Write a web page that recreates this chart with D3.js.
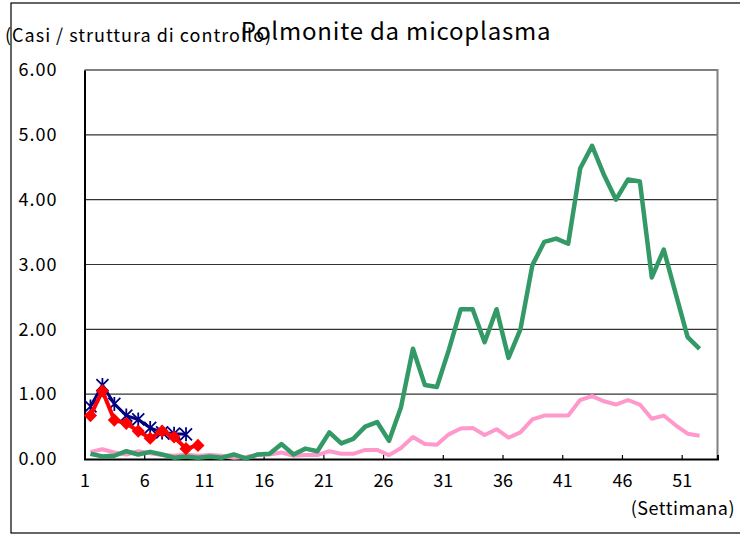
<!DOCTYPE html>
<html>
<head>
<meta charset="utf-8">
<title>Polmonite da micoplasma</title>
<style>
  body { margin: 0; background: #fff; }
  text { font-family: "Noto Sans CJK JP", "Noto Sans", sans-serif; }
</style>
</head>
<body>
<svg></svg>
<script src="https://d3js.org/d3.v7.min.js"></script>
<script>
// weeks 1..52
var weeks = d3.range(1, 53);

// green line (latest season)
var greenVals = [0.08, 0.04, 0.05, 0.12, 0.07, 0.11, 0.07, 0.02, 0.04, 0.02,
                 0.04, 0.02, 0.07, 0.01, 0.07, 0.08, 0.23, 0.07, 0.16, 0.12,
                 0.41, 0.24, 0.31, 0.50, 0.57, 0.28, 0.80, 1.70, 1.14, 1.11,
                 1.68, 2.31, 2.31, 1.80, 2.31, 1.56, 2.00, 2.99, 3.35, 3.40,
                 3.32, 4.48, 4.83, 4.38, 4.00, 4.31, 4.28, 2.80, 3.23, 2.55,
                 1.88, 1.70];
// pink line
var pinkVals = [0.11, 0.15, 0.10, 0.07, 0.12, 0.09, 0.06, 0.05, 0.07, 0.05,
                0.06, 0.05, 0.02, 0.03, 0.06, 0.07, 0.10, 0.05, 0.06, 0.06,
                0.12, 0.08, 0.08, 0.14, 0.14, 0.06, 0.17, 0.34, 0.23, 0.22,
                0.38, 0.47, 0.48, 0.37, 0.46, 0.33, 0.41, 0.61, 0.67, 0.67,
                0.67, 0.91, 0.97, 0.89, 0.84, 0.91, 0.84, 0.62, 0.67, 0.52,
                0.39, 0.36];
// navy line with asterisk markers (weeks 1..9)
var blueVals = [0.81, 1.14, 0.85, 0.67, 0.61, 0.48, 0.41, 0.39, 0.38];
// red line with diamond markers (weeks 1..10)
var redVals = [0.67, 1.05, 0.60, 0.55, 0.43, 0.32, 0.43, 0.34, 0.16, 0.21];

var yTicks = [0, 1, 2, 3, 4, 5, 6];
var xTickLabels = [1, 6, 11, 16, 21, 26, 31, 36, 41, 46, 51];

var svg = d3.select("svg").attr("width", 740).attr("height", 535);

// outer frame
svg.append("rect")
    .attr("x", 11).attr("y", 3)
    .attr("width", 740).attr("height", 530)
    .attr("fill", "none").attr("stroke", "#000").attr("stroke-width", 1.2);

var plotL = 84.5, plotR = 717.5, plotT = 70, plotB = 459;

// each week takes one slot, labels sit at the left edge of the slot
var x = d3.scaleLinear().domain([0.5, 53.5]).range([plotL, plotR]);
var y = d3.scaleLinear().domain([0, 6]).range([plotB, plotT]);

// gridlines
svg.append("g").selectAll("line")
    .data(yTicks.filter(function(d){ return d > 0 && d < 6; }))
    .enter().append("line")
    .attr("x1", plotL).attr("x2", plotR)
    .attr("y1", function(d){ return y(d); })
    .attr("y2", function(d){ return y(d); })
    .attr("stroke", "#333").attr("stroke-width", 1.2);

// plot border top / right
svg.append("path")
    .attr("d", "M" + plotL + "," + plotT + "H" + plotR + "V" + plotB)
    .attr("fill", "none").attr("stroke", "#808080").attr("stroke-width", 2);

// y axis
var yAxis = svg.append("g")
    .attr("transform", "translate(" + plotL + ",0)")
    .call(d3.axisLeft(y).tickValues(yTicks).tickSize(0).tickPadding(27)
        .tickFormat(d3.format(".2f")));
yAxis.select(".domain").attr("stroke", "#000").attr("stroke-width", 2);
yAxis.selectAll("text").attr("font-size", 18).attr("fill", "#000")
    .attr("letter-spacing", 1)
    .style("font-family", "'Noto Sans CJK JP', sans-serif");

// x axis
var xAxis = svg.append("g")
    .attr("transform", "translate(0," + plotB + ")")
    .call(d3.axisBottom(x)
        .tickValues(xTickLabels.map(function(d){ return d - 0.5; }))
        .tickSize(-4).tickPadding(15)
        .tickFormat(function(d){ return d + 0.5; }));
xAxis.select(".domain").attr("stroke", "#000").attr("stroke-width", 2);
xAxis.selectAll(".tick line").attr("stroke", "#000").attr("stroke-width", 1.2);
xAxis.selectAll("text").attr("font-size", 18).attr("fill", "#000")
    .style("font-family", "'Noto Sans CJK JP', sans-serif");

var line = d3.line()
    .x(function(d){ return x(d.week); })
    .y(function(d){ return y(d.v); });

function toPts(vals) {
    return vals.map(function(v, i){ return {week: weeks[i], v: v}; });
}

// pink, green
svg.append("path").datum(toPts(pinkVals)).attr("d", line)
    .attr("fill", "none").attr("stroke", "#ff99cc").attr("stroke-width", 4)
    .attr("stroke-linejoin", "round");
svg.append("path").datum(toPts(greenVals)).attr("d", line)
    .attr("fill", "none").attr("stroke", "#339966").attr("stroke-width", 4.5)
    .attr("stroke-linejoin", "round");

// navy with asterisks
var bluePts = toPts(blueVals);
svg.append("path").datum(bluePts).attr("d", line)
    .attr("fill", "none").attr("stroke", "#000080").attr("stroke-width", 3);
svg.append("g").selectAll("path").data(bluePts).enter().append("path")
    .attr("transform", function(d){ return "translate(" + x(d.week) + "," + y(d.v) + ")"; })
    .attr("d", "M-6,-6L6,6M-6,6L6,-6M0,-7V7")
    .attr("stroke", "#000080").attr("stroke-width", 1.8).attr("fill", "none");

// red with diamonds
var redPts = toPts(redVals);
svg.append("path").datum(redPts).attr("d", line)
    .attr("fill", "none").attr("stroke", "#ff0000").attr("stroke-width", 4);
svg.append("g").selectAll("path").data(redPts).enter().append("path")
    .attr("transform", function(d){ return "translate(" + x(d.week) + "," + y(d.v) + ")"; })
    .attr("d", d3.symbol().type(d3.symbolDiamond2).size(110))
    .attr("fill", "#ff0000");

// titles
svg.append("text").attr("x", 396).attr("y", 40)
    .attr("text-anchor", "middle").attr("font-size", 24)
    .attr("letter-spacing", 0.8)
    .text("Polmonite da micoplasma");
svg.append("text").attr("x", 5).attr("y", 42)
    .attr("font-size", 18).attr("letter-spacing", 1)
    .text("(Casi / struttura di controllo)");
svg.append("text").attr("x", 735).attr("y", 515)
    .attr("text-anchor", "end").attr("font-size", 18)
    .attr("letter-spacing", 0.5)
    .text("(Settimana)");
</script>
</body>
</html>
